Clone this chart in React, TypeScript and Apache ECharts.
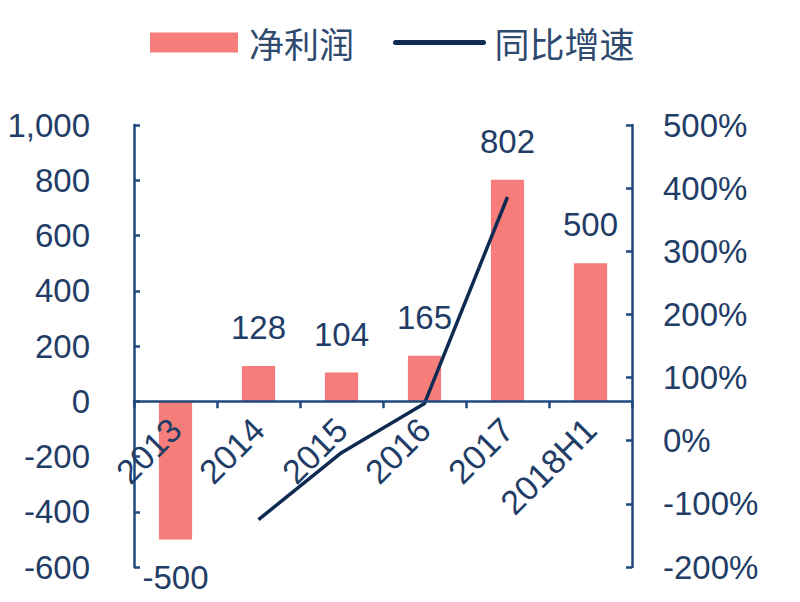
import React, { useEffect, useRef } from "react";
import * as echarts from "echarts";

const categories = ["2013", "2014", "2015", "2016", "2017", "2018H1"];
const netProfit = [-500, 128, 104, 165, 802, 500];
const growthPct = [null, -125, -19, 59, 386, null];
const leftTicks = { min: -600, max: 1000, interval: 200 };
const rightTicks = { min: -200, max: 500, interval: 100 };

const FONT = "'Liberation Sans', Arial, 'Noto Sans CJK SC', sans-serif";
const TEXT = "#1F3D66";
const AXIS = "#1F497D";
const BAR = "#F77D7A";
const LINE = "#0F2B52";

export default function App() {
  const ref = useRef<HTMLDivElement>(null);
  useEffect(() => {
    if (!ref.current) return;
    const chart = echarts.init(ref.current, null, { renderer: "svg" });
    chart.setOption({
      animation: false,
      backgroundColor: "#ffffff",
      textStyle: { fontFamily: FONT },
      legend: {
        left: 145,
        top: 20,
        itemWidth: 88,
        itemHeight: 20,
        itemGap: 39,
        textStyle: {
          fontSize: 35,
          color: "#2E4A6E",
          fontFamily: "'Noto Sans CJK SC', sans-serif",
          padding: [0, 0, 0, 6],
        },
        data: [
          { name: "净利润", icon: "rect" },
          { name: "同比增速", itemStyle: { opacity: 0 }, lineStyle: { width: 5, cap: "round" } },
        ],
      },
      grid: { left: 134, right: 168, top: 125, bottom: 35, containLabel: false, outerBoundsMode: "none" },
      xAxis: {
        type: "category",
        data: categories,
        axisLine: { onZero: true, lineStyle: { color: AXIS, width: 2.5 } },
        axisTick: { show: true, inside: false, length: 7, lineStyle: { color: AXIS, width: 2.5 } },
        axisLabel: { rotate: 45, margin: -143, fontSize: 34, color: TEXT, fontFamily: FONT },
        z: 10,
      },
      yAxis: [
        {
          type: "value",
          ...leftTicks,
          splitLine: { show: false },
          axisLine: { show: true, lineStyle: { color: AXIS, width: 2.5 } },
          axisTick: { show: true, inside: true, length: 6, lineStyle: { color: AXIS, width: 2.5 } },
          axisLabel: {
            margin: 44,
            fontSize: 33,
            color: TEXT,
            fontFamily: FONT,
            formatter: (v: number) => v.toLocaleString("en-US"),
          },
        },
        {
          type: "value",
          ...rightTicks,
          position: "right",
          splitLine: { show: false },
          axisLine: { show: true, onZero: false, lineStyle: { color: AXIS, width: 2.5 } },
          axisTick: { show: true, inside: true, length: 6, lineStyle: { color: AXIS, width: 2.5 } },
          axisLabel: { margin: 31, fontSize: 33, color: TEXT, fontFamily: FONT, formatter: "{value}%" },
        },
      ],
      series: [
        {
          name: "净利润",
          type: "bar",
          yAxisIndex: 0,
          barWidth: "40%",
          itemStyle: { color: BAR },
          data: netProfit.map((v) => ({
            value: v,
            label: {
              show: true,
              position: v < 0 ? "bottom" : "top",
              distance: 22,
              fontSize: 33,
              color: TEXT,
              fontFamily: FONT,
            },
          })),
          z: 2,
        },
        {
          name: "同比增速",
          type: "line",
          yAxisIndex: 1,
          data: growthPct,
          symbol: "none",
          connectNulls: false,
          lineStyle: { color: LINE, width: 3.5 },
          itemStyle: { color: LINE },
          z: 5,
        },
      ],
    });
    return () => chart.dispose();
  }, []);
  return <div ref={ref} style={{ width: 800, height: 602, position: "absolute", left: 0, top: 0 }} />;
}
